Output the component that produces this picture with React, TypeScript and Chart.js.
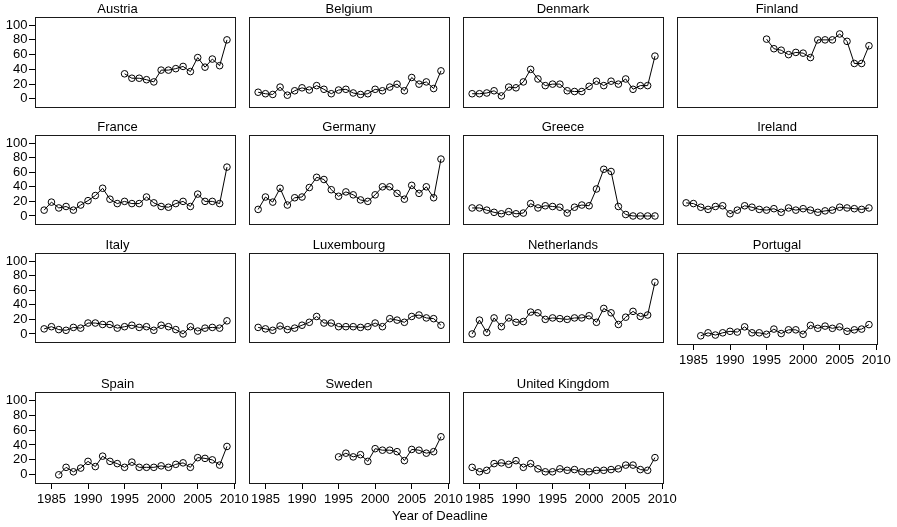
import React, { useEffect, useRef } from "react";
import { Chart, registerables } from "chart.js";
Chart.register(...registerables);

// ---- categories / tick labels ----
const years1984 = [1984, 1985, 1986, 1987, 1988, 1989, 1990, 1991, 1992, 1993, 1994, 1995, 1996, 1997, 1998, 1999, 2000, 2001, 2002, 2003, 2004, 2005, 2006, 2007, 2008, 2009];
const years1986 = years1984.slice(2);
const years1995 = years1984.slice(11);
const xTickValues = [1985, 1990, 1995, 2000, 2005, 2010];
const yTickValues = [0, 20, 40, 60, 80, 100];
const xAxisTitle = "Year of Deadline";

// ---- series values ----
const austria = [34, 28, 28, 26, 23, 39, 39, 41, 44, 37, 56, 43, 54, 45, 80];
const belgium = [9, 7, 6, 16, 5, 11, 15, 12, 18, 13, 7, 12, 13, 8, 6, 7, 13, 11, 16, 20, 11, 29, 20, 23, 14, 38];
const denmark = [7, 7, 8, 11, 4, 16, 15, 23, 40, 27, 18, 20, 20, 11, 10, 10, 17, 24, 18, 24, 20, 27, 13, 18, 18, 58];
const finland = [81, 68, 66, 60, 63, 62, 56, 80, 80, 80, 88, 78, 48, 48, 72];
const france = [8, 19, 11, 13, 8, 15, 21, 28, 38, 23, 17, 20, 17, 17, 26, 18, 13, 12, 17, 20, 13, 30, 20, 20, 17, 67];
const germany = [9, 26, 19, 38, 15, 25, 26, 39, 53, 50, 36, 27, 33, 29, 22, 20, 29, 40, 40, 31, 23, 42, 31, 40, 25, 78];
const greece = [11, 11, 8, 5, 3, 6, 3, 4, 17, 11, 14, 13, 12, 4, 12, 15, 14, 37, 64, 61, 13, 2, 0, 0, 0, 0];
const ireland = [18, 17, 12, 9, 13, 14, 3, 8, 14, 12, 9, 8, 10, 5, 11, 8, 10, 8, 5, 7, 8, 12, 11, 10, 9, 11];
const italy = [7, 10, 6, 5, 9, 8, 15, 15, 13, 13, 8, 10, 12, 9, 10, 5, 12, 10, 6, 0, 10, 4, 8, 9, 8, 18];
const luxembourg = [9, 7, 5, 11, 6, 8, 12, 16, 24, 15, 15, 10, 10, 10, 9, 10, 15, 10, 21, 19, 16, 24, 26, 22, 21, 12];
const netherlands = [0, 19, 2, 22, 10, 22, 16, 17, 30, 29, 20, 22, 21, 20, 22, 22, 25, 16, 35, 29, 13, 23, 31, 24, 26, 71];
const portugal = [0, 4, 1, 4, 6, 5, 12, 4, 4, 2, 9, 3, 8, 8, 2, 14, 10, 13, 10, 12, 6, 8, 9, 15];
const spain = [0, 10, 4, 9, 18, 11, 25, 18, 15, 10, 17, 10, 10, 10, 12, 10, 14, 16, 10, 23, 22, 20, 13, 38];
const sweden = [24, 29, 24, 27, 18, 35, 33, 33, 31, 19, 34, 33, 29, 31, 51];
const unitedKingdom = [10, 4, 6, 15, 16, 14, 19, 10, 15, 8, 4, 4, 8, 6, 7, 4, 4, 6, 6, 7, 8, 13, 13, 7, 6, 23];

const panels = [
  { name: "Austria", years: years1995, values: austria },
  { name: "Belgium", years: years1984, values: belgium },
  { name: "Denmark", years: years1984, values: denmark },
  { name: "Finland", years: years1995, values: finland },
  { name: "France", years: years1984, values: france },
  { name: "Germany", years: years1984, values: germany },
  { name: "Greece", years: years1984, values: greece },
  { name: "Ireland", years: years1984, values: ireland },
  { name: "Italy", years: years1984, values: italy },
  { name: "Luxembourg", years: years1984, values: luxembourg },
  { name: "Netherlands", years: years1984, values: netherlands },
  { name: "Portugal", years: years1986, values: portugal },
  { name: "Spain", years: years1986, values: spain },
  { name: "Sweden", years: years1995, values: sweden },
  { name: "United Kingdom", years: years1984, values: unitedKingdom },
];

// ---- layout ----
const FONT = "'Liberation Sans', Arial, Helvetica, sans-serif";
const colLefts = [35, 249, 463, 677];
const boxW = 200;
const rowTops = [17, 135, 253, 392];
const rowHeights = [92, 91, 91, 91];
const titleH = 17;
const padL = 8;
const padR = 18;
const xAxisH = 30;

const framePlugin = {
  id: "frame",
  afterDraw(chart: any) {
    const { ctx, chartArea } = chart;
    ctx.save();
    ctx.strokeStyle = "#1a1a1a";
    ctx.lineWidth = 1;
    const l = Math.round(chartArea.left) + 0.5;
    const t = Math.round(chartArea.top) + 0.5;
    const w = Math.round(chartArea.right) - Math.round(chartArea.left);
    const h = Math.round(chartArea.bottom) - Math.round(chartArea.top);
    ctx.strokeRect(l, t, w, h);
    ctx.restore();
  },
};

function Panel({ index }: { index: number }) {
  const ref = useRef<HTMLCanvasElement | null>(null);
  const p = panels[index];
  const row = Math.floor(index / 4);
  const col = index % 4;
  const hasY = col === 0;
  const hasX = index + 4 >= panels.length;
  const boxLeft = colLefts[col];
  const boxTop = rowTops[row];
  const boxH = rowHeights[row];
  const left = hasY ? 0 : boxLeft - padL;
  const leftSpace = hasY ? boxLeft : padL;
  const width = leftSpace + boxW + padR;
  const height = titleH + boxH + (hasX ? xAxisH : 3);

  useEffect(() => {
    if (!ref.current) return;
    const font = { family: FONT, size: 13, weight: "normal" as const, lineHeight: 1.2 };
    const chart = new Chart(ref.current, {
      type: "line",
      data: {
        datasets: [
          {
            data: p.years.map((yr, i) => ({ x: yr, y: p.values[i] })),
            borderColor: "#000",
            borderWidth: 1,
            pointRadius: 3.3,
            pointBorderWidth: 1,
            pointBorderColor: "#000",
            pointBackgroundColor: "rgba(0,0,0,0)",
            tension: 0,
            fill: false,
          },
        ],
      },
      options: {
        animation: false,
        responsive: false,
        maintainAspectRatio: false,
        devicePixelRatio: 1,
        layout: {
          padding: {
            left: hasY ? 0 : padL,
            right: padR,
            top: 0,
            bottom: hasX ? 0 : 3,
          },
        },
        plugins: {
          legend: { display: false },
          tooltip: { enabled: false },
          title: {
            display: true,
            text: p.name,
            color: "#000",
            font,
            padding: { top: 1.2, bottom: 0.2 },
          },
        },
        scales: {
          x: {
            type: "linear",
            min: 1982.75,
            max: 2010.1,
            display: hasX,
            afterBuildTicks: (s: any) => {
              s.ticks = xTickValues.map((v) => ({ value: v }));
            },
            afterFit: (s: any) => {
              if (hasX) s.height = xAxisH;
              s.paddingLeft = 0;
              s.paddingRight = 0;
              s.paddingTop = 0;
              s.paddingBottom = 0;
            },
            grid: { display: true, drawOnChartArea: false, drawTicks: true, tickLength: 6, color: "#000", lineWidth: 1 },
            border: { display: false },
            ticks: {
              color: "#000",
              font,
              padding: 3,
              maxRotation: 0,
              autoSkip: false,
              callback: (v: any) => String(v),
            },
          },
          y: {
            type: "linear",
            min: -11,
            max: 111,
            display: hasY,
            afterBuildTicks: (s: any) => {
              s.ticks = yTickValues.map((v) => ({ value: v }));
            },
            afterFit: (s: any) => {
              if (hasY) s.width = boxLeft;
              s.paddingLeft = 0;
              s.paddingRight = 0;
              s.paddingTop = 0;
              s.paddingBottom = 0;
            },
            grid: { display: true, drawOnChartArea: false, drawTicks: true, tickLength: 6, color: "#000", lineWidth: 1 },
            border: { display: false },
            ticks: {
              color: "#000",
              font,
              padding: 1.5,
              autoSkip: false,
              callback: (v: any) => String(v),
            },
          },
        },
      },
      plugins: [framePlugin],
    } as any);
    return () => chart.destroy();
  }, []);

  return (
    <canvas
      ref={ref}
      width={width}
      height={height}
      style={{ position: "absolute", left, top: boxTop - titleH, width, height }}
    />
  );
}

export default function App() {
  return (
    <div style={{ position: "absolute", left: 0, top: 0, width: 897, height: 527, background: "#fff", overflow: "hidden" }}>
      {panels.map((_, i) => (
        <Panel key={i} index={i} />
      ))}
      <div
        style={{
          position: "absolute",
          left: 392,
          top: 507,
          fontFamily: FONT,
          fontSize: 13,
          lineHeight: "17px",
          color: "#000",
          whiteSpace: "nowrap",
        }}
      >
        {xAxisTitle}
      </div>
    </div>
  );
}
